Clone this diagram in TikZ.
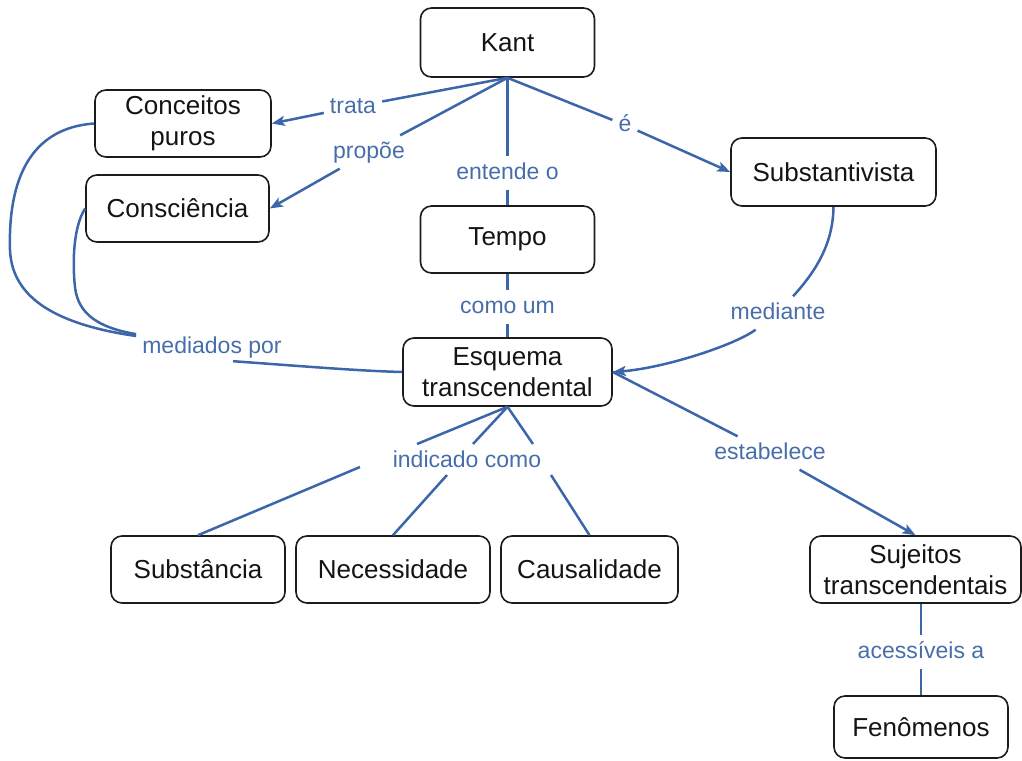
\documentclass[tikz,border=0pt]{standalone}
\usepackage{fontspec}
\setmainfont{Liberation Sans}
\usetikzlibrary{arrows.meta,calc}
\definecolor{linkblue}{RGB}{60,102,170}
\definecolor{labelblue}{RGB}{72,110,170}
\definecolor{boxline}{RGB}{28,28,28}

\begin{document}
\begin{tikzpicture}[x=1pt,y=-1pt,
  concept/.style={draw=boxline, line width=1.6pt, rounded corners=11pt,
    align=center, inner sep=0pt, text=black!92,
    font=\fontsize{26}{31}\selectfont},
  linkname/.style={text=labelblue, inner sep=6pt, text height=17pt, text depth=4pt,
    font=\fontsize{23}{27}\selectfont},
  link/.style={draw=linkblue, line width=2.5pt},
  arrowlink/.style={link, -{Stealth[length=13pt,width=10pt,inset=3pt]}}
]
\useasboundingbox (0,0) rectangle (1022,760);

% concepts
\node[concept, minimum width=174pt, minimum height=69pt] (kant)  at (507.5,42.5)  {Kant};
\node[concept, minimum width=176pt, minimum height=67pt] (conc)  at (183,123.5)   {Conceitos\\puros};
\node[concept, minimum width=183pt, minimum height=67pt] (consc) at (177.5,208.5) {Consciência};
\node[concept, minimum width=205pt, minimum height=68pt] (subv)  at (833.5,172)   {Substantivista};
\node[concept, minimum width=174pt, minimum height=67pt] (tempo) at (507.5,239.5) {Tempo};
\node[concept, minimum width=209pt, minimum height=68pt] (esq)   at (507.5,372)   {Esquema\\transcendental};
\node[concept, minimum width=174pt, minimum height=67pt] (subs)  at (198,569.5)   {Substância};
\node[concept, minimum width=194pt, minimum height=67pt] (nec)   at (393,569.5)   {Necessidade};
\node[concept, minimum width=177pt, minimum height=67pt] (caus)  at (589.5,569.5) {Causalidade};
\node[concept, minimum width=211pt, minimum height=67pt] (suj)   at (915.5,569.5) {Sujeitos\\transcendentais};
\node[concept, minimum width=174pt, minimum height=62pt] (fen)   at (921,727)     {Fenômenos};

% linking phrases
\node[linkname] (trata)    at (353,107)   {trata};
\node[linkname] (propoe)   at (369,152)   {propõe};
\node[linkname] (entende)  at (507.5,173) {entende o};
\node[linkname] (eh)       at (625,125)   {é};
\node[linkname] (comoum)   at (507.5,307) {como um};
\node[linkname] (mediante) at (778,313)   {mediante};
\node[linkname] (mediados) at (212,347)   {mediados por};
\node[linkname] (ind)      at (467,461)   {indicado como};
\node[linkname] (estab)    at (770,453)   {estabelece};
\node[linkname] (acess)    at (921,652)   {acessíveis a};

% attachment points on the "indicado como" phrase
\coordinate (indA) at ($(ind.center)+(-50,-17)$);
\coordinate (indB) at ($(ind.center)+(6,-17)$);
\coordinate (indC) at ($(ind.center)+(66,-17)$);
\coordinate (indD) at ($(ind.center)+(-107,6)$);
\coordinate (indE) at ($(ind.center)+(-20,14)$);
\coordinate (indF) at ($(ind.center)+(84,14)$);
\coordinate (medS) at ($(mediados.south)+(21,-2.5)$);

% Kant
\draw[link] (kant.south) -- (trata);
\draw[arrowlink] (trata) -- (conc.east);
\draw[link] (kant.south) -- (propoe);
\draw[arrowlink] (propoe) -- (consc.east);
\draw[link] (kant.south) -- (entende);
\draw[link] (entende) -- (tempo.north);
\draw[link] (kant.south) -- (eh);
\draw[arrowlink] (eh) -- (subv.west);

% Tempo
\draw[link] (tempo.south) -- (comoum);
\draw[link] (comoum) -- (esq.north);

% Substantivista
\draw[link] (subv.south) .. controls (833,245) and (815,272) .. (mediante);
\draw[arrowlink] (mediante) .. controls (735,345) and (665,368) .. (esq.east);

% mediados por
\draw[link] (conc.west) .. controls (30,128) and (8,180) .. (10,250)
  .. controls (12,300) and (60,325) .. (mediados);
\draw[link] (consc.west) .. controls (74,225) and (72,260) .. (75,287)
  .. controls (78,315) and (100,328) .. (mediados);
\draw[link] (medS) .. controls (300,366) and (360,371) .. (esq.west);

% indicado como
\draw[link] (esq.south) -- (indA);
\draw[link] (esq.south) -- (indB);
\draw[link] (esq.south) -- (indC);
\draw[link] (indD) -- (subs.north);
\draw[link] (indE) -- (nec.north);
\draw[link] (indF) -- (caus.north);

% estabelece
\draw[link] (esq.east) -- (estab);
\draw[arrowlink] (estab) -- (suj.north);

% acessíveis a
\draw[link] (acess.north) -- (acess.north |- suj.south);
\draw[link] (acess.south) -- (acess.south |- fen.north);
\end{tikzpicture}
\end{document}
